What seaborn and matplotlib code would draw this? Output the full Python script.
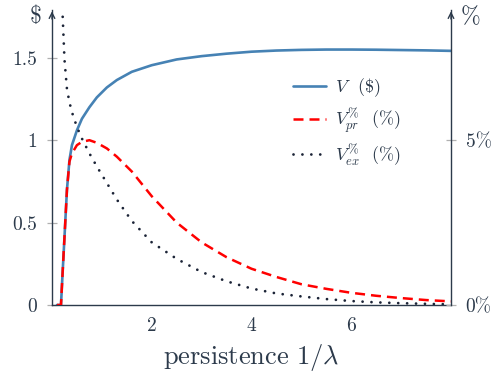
import numpy as np
import pandas as pd
import matplotlib
matplotlib.use('Agg')
import matplotlib.pyplot as plt
import seaborn as sns

sns.set_style('white')
plt.rcParams['font.family'] = ['cmr10', 'DejaVu Serif']
plt.rcParams['mathtext.fontset'] = 'cm'
plt.rcParams['axes.unicode_minus'] = False

# persistence 1/lambda
persistence = [0.1, 0.18, 0.21, 0.25, 0.3, 0.35, 0.4, 0.5, 0.6, 0.75, 0.9, 1.1, 1.3, 1.6,
               2.0, 2.5, 3.0, 3.5, 4.0, 4.5, 5.0, 5.5, 6.0, 6.5, 7.0, 7.5, 8.0]
# V in $
V = [0, 0, 0.18, 0.41, 0.7, 0.88, 0.97, 1.06, 1.13, 1.2, 1.26, 1.32, 1.365, 1.415,
     1.455, 1.49, 1.51, 1.525, 1.537, 1.544, 1.548, 1.55, 1.55, 1.549, 1.547, 1.545, 1.542]
# V_pr in %
V_pr = [0, 0, 0.9, 2.05, 3.5, 4.35, 4.6, 4.85, 4.95, 5.0, 4.92, 4.75, 4.5, 4.05,
        3.3, 2.5, 1.9, 1.45, 1.1, 0.85, 0.63, 0.49, 0.37, 0.28, 0.21, 0.15, 0.11]
# V_ex in %
V_ex = [20, 10.5, 8.9, 7.45, 6.55, 6.15, 5.85, 5.4, 5.05, 4.6, 4.2, 3.7, 3.2, 2.55,
        1.9, 1.4, 1.0, 0.72, 0.5, 0.35, 0.26, 0.18, 0.12, 0.08, 0.055, 0.035, 0.02]

df = pd.DataFrame({'x': persistence, 'V': V, 'V_pr': V_pr, 'V_ex': V_ex})

axcol = '#2c3a4b'
tickcol = '#b0b0b0'
txtcol = '#2c3a4b'

fig = plt.figure(figsize=(4.97, 3.76), dpi=100)
ax = fig.add_axes([52/497, 71/376, 399/497, 295/376])
ax2 = ax.twinx()

sns.lineplot(data=df, x='x', y='V', ax=ax, color='#4682b4', lw=1.9, label=r'$V$  (\$)', legend=False)
sns.lineplot(data=df, x='x', y='V_pr', ax=ax2, color='red', lw=1.8,
             label=r'$V^{\%}_{pr}$  (%)', legend=False)
ax2.lines[-1].set_dashes((4, 2.4))
sns.lineplot(data=df, x='x', y='V_ex', ax=ax2, color='#1b2336', lw=2.0,
             label=r'$V^{\%}_{ex}$  (%)', legend=False)
ax2.lines[-1].set_dashes((0.01, 3.2))
ax2.lines[-1].set_dash_capstyle('round')

ax.set_xlim(0, 8)
ax.set_ylim(0, 1.79)
ax2.set_ylim(0, 1.79 * 5)

ax.set_xticks([2, 4, 6])
ax.set_xticklabels(['2', '4', '6'])
ax.set_yticks([0, 0.5, 1, 1.5])
ax.set_yticklabels(['0', '0.5', '1', '1.5'])
ax2.set_yticks([0, 5])
ax2.set_yticklabels(['0%', '5%'])

for a in (ax, ax2):
    for s in a.spines.values():
        s.set_visible(False)
    a.tick_params(direction='inout', length=7, width=0.9, color=tickcol,
                  labelcolor=txtcol, labelsize=14)
    a.grid(False)
ax.spines['left'].set_visible(True)
ax.spines['bottom'].set_visible(True)
ax2.spines['right'].set_visible(True)
for s in (ax.spines['left'], ax.spines['bottom'], ax2.spines['right']):
    s.set_color(axcol)
    s.set_linewidth(1.0)
ax.tick_params(axis='x', pad=5)
ax.tick_params(axis='y', pad=7)
ax2.tick_params(axis='y', pad=7)

# axis arrows
ax.annotate('', xy=(0, 1.005), xytext=(0, 0.96), xycoords='axes fraction',
            arrowprops=dict(arrowstyle='->', color=axcol, lw=1.0))
ax.annotate('', xy=(1, 1.005), xytext=(1, 0.96), xycoords='axes fraction',
            arrowprops=dict(arrowstyle='->', color=axcol, lw=1.0))

ax.set_xlabel(r'persistence $1/\lambda$', fontsize=19, color=txtcol, labelpad=5)
ax.set_ylabel('')
ax2.set_ylabel('')
fig.text(36/497, 1 - 17/376, r'\$', fontsize=17, color=txtcol, ha='center', va='center')
fig.text(471/497, 1 - 17/376, '%', fontsize=17, color=txtcol, ha='center', va='center')

h1, l1 = ax.get_legend_handles_labels()
h2, l2 = ax2.get_legend_handles_labels()
leg = ax2.legend(h1 + h2, l1 + l2, loc='upper right', bbox_to_anchor=(0.915, 0.83),
                 frameon=False, fontsize=13, handlelength=1.8, labelspacing=0.4,
                 handletextpad=0.5, labelcolor=txtcol)

fig.savefig('out.png', dpi=100)
plt.close()
